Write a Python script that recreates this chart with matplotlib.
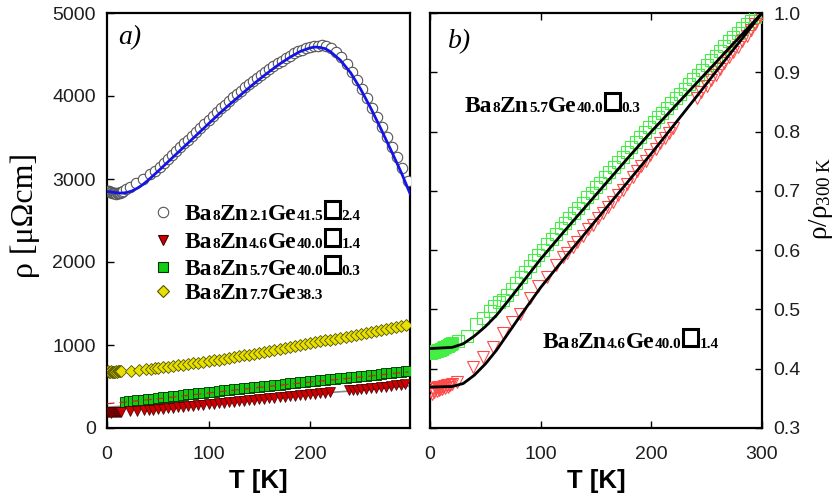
import matplotlib
matplotlib.use("Agg")
import matplotlib.pyplot as plt
from matplotlib.offsetbox import TextArea, HPacker, DrawingArea, AnnotationBbox
from matplotlib.patches import Rectangle
from matplotlib.lines import Line2D

plt.rcParams['mathtext.fontset'] = 'custom'
plt.rcParams['mathtext.rm'] = 'Liberation Serif'
plt.rcParams['mathtext.it'] = 'Liberation Serif:italic'

# ---------------- panel a data ----------------
circ_T = [1, 2, 3, 4, 5, 6, 7, 8, 9, 10, 11, 12, 13, 14, 15, 16, 19, 23, 29, 35, 42, 47,
          52, 56, 60, 64, 68, 72, 76, 80, 84, 88, 92, 96, 100, 104, 108, 112, 116, 120,
          124, 128, 132, 136, 140, 144, 148, 152, 156, 160, 164, 168, 172, 176, 180, 184,
          188, 192, 196, 200, 204, 208, 212, 216, 221, 226, 231, 236, 241, 246, 251, 256,
          261, 266, 271, 276, 281, 286, 291, 297]
circ_rho = [2860, 2852, 2846, 2840, 2835, 2831, 2828, 2826, 2825, 2826, 2828, 2831, 2836, 2842,
            2849, 2856, 2875, 2900, 2950, 3000, 3055, 3100,
            3145, 3192, 3240, 3287, 3334, 3381, 3428, 3475, 3522, 3569, 3616, 3663, 3710,
            3757, 3804, 3850, 3896, 3942, 3988, 4027, 4065, 4103, 4140, 4178, 4215, 4252,
            4288, 4323, 4358, 4392, 4425, 4457, 4487, 4514, 4538, 4560, 4578, 4592, 4602,
            4608, 4610, 4602, 4578, 4535, 4470, 4390, 4295, 4192, 4085, 3975, 3860, 3745,
            3625, 3505, 3385, 3262, 3135, 2975]

fitA_T = [0, 5, 10, 15, 20, 25, 30, 35, 40, 45, 50, 60, 70, 80, 90, 100, 110, 120, 130, 140,
          150, 160, 170, 180, 190, 200, 205, 210, 215, 220, 230, 240, 250, 260, 270, 280,
          290, 298, 299]
fitA_rho = [2850, 2842, 2833, 2830, 2838, 2858, 2890, 2930, 2980, 3035, 3090, 3205, 3320,
            3435, 3550, 3665, 3780, 3890, 3995, 4100, 4200, 4295, 4385, 4465, 4535, 4580,
            4590, 4585, 4570, 4535, 4430, 4280, 4080, 3850, 3600, 3340, 3075, 2840, 2815]

yel_T = [1, 2, 3, 4, 5, 6, 7, 8, 9, 10, 11, 12, 13, 14, 24, 32, 38, 43, 47,
         50, 55, 60, 65, 70, 75, 80, 85, 90, 95, 100, 105, 110, 115, 120, 125, 130, 135,
         140, 145, 150, 155, 160, 165, 170, 175, 180, 185, 190, 195, 200, 205, 210, 215,
         220, 225, 230, 235, 240, 245, 250, 255, 260, 265, 270, 275, 280, 285, 290, 295]
yel_rho = [682, 680, 679, 681, 680, 678, 679, 680, 681, 680, 682, 681, 683, 684, 684, 700,
           707, 716, 720,
           725, 732, 740, 747, 755, 763, 771, 779, 788, 796, 805, 814, 824, 834, 844, 854,
           864, 874, 884, 895, 905, 916, 927, 938, 950, 961, 973, 985, 996, 1008, 1020,
           1032, 1043, 1055, 1066, 1078, 1089, 1101, 1112, 1124, 1135, 1147, 1159, 1171,
           1183, 1195, 1207, 1219, 1231, 1245]

grn_T = [18, 22, 26, 30, 35, 40, 45, 50, 55, 60, 65, 70, 75, 80, 85, 90, 95, 100, 105, 110,
         115, 120, 125, 130, 135, 140, 145, 150, 155, 160, 165, 170, 175, 180, 185, 190,
         195, 200, 205, 210, 215, 220, 225, 230, 235, 240, 245, 250, 255, 260, 265, 270,
         275, 280, 285, 290, 295, 297]
grn_rho = [318, 322, 328, 333, 340, 347, 354, 362, 369, 376, 383, 390, 397, 404, 411, 418,
           425, 432, 439, 446, 453, 459, 466, 472, 479, 485, 492, 498, 505, 511, 518, 524,
           531, 537, 544, 550, 557, 563, 569, 575, 581, 587, 593, 599, 605, 611, 617, 623,
           630, 636, 643, 650, 657, 664, 671, 678, 685, 690]
grnfit_T = [0, 50, 100, 150, 200, 250, 297]
grnfit_rho = [292, 352, 422, 490, 553, 614, 676]

red_T = [1, 2, 3, 4, 5, 6, 7, 8, 9, 10, 11, 12, 13, 14, 23, 30, 36, 41, 45,
         50, 55, 60, 65, 70, 75, 80, 85, 90, 95, 100, 105, 110, 115, 120, 125, 130, 135,
         140, 145, 150, 155, 160, 165, 170, 175, 180, 185, 190, 195, 200, 205, 210, 215,
         220, 238, 242, 246, 250, 255, 260, 265, 270, 275, 280, 285, 290, 294]
red_rho = [192, 188, 195, 186, 190, 193, 187, 191, 189, 194, 190, 192, 195, 196, 200, 206,
           212, 218, 222,
           228, 234, 240, 246, 252, 258, 263, 269, 275, 281, 287, 293, 299, 305, 311, 317,
           323, 329, 335, 341, 347, 353, 359, 365, 371, 377, 383, 389, 395, 401, 407, 413,
           419, 425, 431, 455, 459, 463, 467, 473, 478, 484, 490, 496, 505, 513, 522, 532]
redfit_T = [0, 50, 100, 150, 200, 230, 250, 297]
redfit_rho = [250, 290, 330, 370, 410, 437, 455, 505]

# ---------------- panel b data ----------------
gb_T = [1, 2, 3, 4, 5, 6, 7, 8, 9, 10, 11, 12, 13, 14, 15, 16, 17, 18, 19, 20,
        25, 33, 42, 48, 54, 58, 62,
        66, 70, 74, 78, 82, 86, 90, 94, 98, 102, 106, 110, 114, 118, 122, 126, 130, 134,
        138, 142, 146, 150, 154, 158, 162, 166, 170, 174, 178, 182, 186, 190, 194, 198,
        202, 206, 210, 214, 218, 222, 226, 230, 234, 238, 242, 246, 250, 254, 258, 262,
        266, 270, 274, 278, 282, 286, 290, 294, 298]
gb_v = [0.427, 0.428, 0.428, 0.429, 0.430, 0.430, 0.431, 0.432, 0.432, 0.433, 0.434, 0.435,
        0.436, 0.437, 0.438, 0.439, 0.440, 0.441, 0.442, 0.443,
        0.447, 0.456, 0.476, 0.486, 0.497, 0.505, 0.512,
        0.516, 0.525, 0.535, 0.544, 0.554, 0.563, 0.573, 0.583, 0.592, 0.601, 0.610, 0.619,
        0.628, 0.637, 0.645, 0.654, 0.663, 0.671, 0.680, 0.689, 0.697, 0.706, 0.714, 0.723,
        0.731, 0.740, 0.749, 0.757, 0.766, 0.774, 0.783, 0.791, 0.800, 0.808, 0.816, 0.824,
        0.832, 0.840, 0.848, 0.856, 0.864, 0.872, 0.880, 0.888, 0.896, 0.904, 0.912, 0.920,
        0.928, 0.936, 0.944, 0.952, 0.959, 0.967, 0.974, 0.981, 0.987, 0.993, 0.998]
gfit_T = [0, 20, 30, 40, 50, 60, 70, 80, 90, 100, 120, 140, 160, 180, 200, 220, 240, 260,
          280, 300]
gfit_v = [0.434, 0.436, 0.442, 0.455, 0.471, 0.490, 0.513, 0.537, 0.561, 0.585, 0.629,
          0.672, 0.715, 0.758, 0.800, 0.840, 0.880, 0.920, 0.960, 1.000]

rb_T = [1, 2, 3, 4, 5, 6, 7, 8, 9, 10, 11, 12, 13, 14, 15, 16, 17, 18, 20, 24,
        39, 48, 57, 66, 74, 81, 90, 98, 106, 114, 120, 124, 129, 133, 138, 143, 147, 152,
        156, 161, 165, 170, 174, 178, 183, 187, 191, 195, 199, 204, 208, 212, 216, 220,
        241, 245, 250, 254, 258, 262, 266, 270, 274, 278, 282, 286, 290, 294, 298]
rb_v = [0.362, 0.358, 0.365, 0.360, 0.367, 0.362, 0.369, 0.364, 0.366, 0.370, 0.365, 0.369,
        0.371, 0.368, 0.372, 0.370, 0.373, 0.372, 0.375, 0.378,
        0.403, 0.420, 0.437, 0.460, 0.479, 0.493, 0.520, 0.540, 0.555, 0.575, 0.588, 0.595,
        0.606, 0.613, 0.624, 0.635, 0.643, 0.655, 0.663, 0.673, 0.682, 0.693, 0.702, 0.712,
        0.723, 0.733, 0.742, 0.751, 0.760, 0.771, 0.780, 0.789, 0.798, 0.806,
        0.856, 0.866, 0.877, 0.887, 0.896, 0.906, 0.915, 0.925, 0.934, 0.943, 0.953, 0.962,
        0.972, 0.981, 0.995]
rfit_T = [0, 20, 30, 40, 50, 60, 70, 80, 90, 100, 120, 140, 160, 180, 200, 220, 240, 260,
          280, 300]
rfit_v = [0.369, 0.370, 0.375, 0.389, 0.408, 0.431, 0.458, 0.485, 0.511, 0.537, 0.583,
          0.628, 0.673, 0.718, 0.763, 0.810, 0.857, 0.905, 0.952, 1.000]

a_yticks = [0, 1000, 2000, 3000, 4000, 5000]
a_xticks = [0, 100, 200]
b_xticks = [0, 100, 200, 300]
b_yticks = [0.3, 0.4, 0.5, 0.6, 0.7, 0.8, 0.9, 1.0]
b_yticklabels = ['0.3', '0.4', '0.5', '0.6', '0.7', '0.8', '0.9', '1.0']

legend_rows = [
    ('o', 'white', '#555555', 7.5, [('n', 'Ba'), ('s', '8'), ('n', 'Zn'), ('s', '2.1'), ('n', 'Ge'), ('s', '41.5'), ('box', ''), ('s', '2.4')]),
    ('v', '#cc0000', '#400000', 7.5, [('n', 'Ba'), ('s', '8'), ('n', 'Zn'), ('s', '4.6'), ('n', 'Ge'), ('s', '40.0'), ('box', ''), ('s', '1.4')]),
    ('s', '#11cc11', '#003300', 6.5, [('n', 'Ba'), ('s', '8'), ('n', 'Zn'), ('s', '5.7'), ('n', 'Ge'), ('s', '40.0'), ('box', ''), ('s', '0.3')]),
    ('D', '#e8e000', '#555500', 6.0, [('n', 'Ba'), ('s', '8'), ('n', 'Zn'), ('s', '7.7'), ('n', 'Ge'), ('s', '38.3')]),
]
b_label_top = [('n', 'Ba'), ('s', '8'), ('n', 'Zn'), ('s', '5.7'), ('n', 'Ge'), ('s', '40.0'), ('box', ''), ('s', '0.3')]
b_label_bot = [('n', 'Ba'), ('s', '8'), ('n', 'Zn'), ('s', '4.6'), ('n', 'Ge'), ('s', '40.0'), ('box', ''), ('s', '1.4')]

W, H = 835, 503
fig = plt.figure(figsize=(W / 100, H / 100), dpi=100)
axa = fig.add_axes([107 / W, 75 / H, 303 / W, 415 / H])
axb = fig.add_axes([430 / W, 75 / H, 332 / W, 415 / H])

tick_font = dict(family='Liberation Sans', size=14)

# ---- panel a ----
axa.plot(yel_T, yel_rho, ls='none', marker='D', ms=6.0, mfc='#e8e000', mec='#555500', mew=0.6, zorder=3)
axa.plot(grnfit_T, grnfit_rho, color='#cc2222', lw=0.9, ls=(0, (6, 4)), zorder=5)
axa.plot(grn_T, grn_rho, ls='none', marker='s', ms=6.5, mfc='#11cc11', mec='#003300', mew=0.6, zorder=3)
axa.plot(redfit_T, redfit_rho, color='#888888', lw=1.2, zorder=2)
axa.plot(red_T, red_rho, ls='none', marker='v', ms=7.5, mfc='#cc0000', mec='#400000', mew=0.5, zorder=4)
axa.plot(circ_T, circ_rho, ls='none', marker='o', ms=7.5, mfc='white', mec='#555555', mew=0.8, zorder=3)
axa.plot(fitA_T, fitA_rho, color='#1414e6', lw=2.0, zorder=6)

axa.set_xlim(0, 298.5)
axa.set_ylim(0, 5000)
axa.set_xticks(a_xticks)
axa.set_yticks(a_yticks)
axa.tick_params(direction='in', length=5, width=1, pad=8, labelcolor='#1e1e1e',
                top=False, right=False)
axa.tick_params(axis='x', pad=13)
for lab in axa.get_xticklabels() + axa.get_yticklabels():
    lab.set_fontproperties(tick_font)
for sp in axa.spines.values():
    sp.set_linewidth(1.6)

# ---- panel b ----
axb.plot(gb_T, gb_v, ls='none', marker='s', ms=8, mfc='none', mec='#44ee44', mew=0.8, zorder=3)
axb.plot(rb_T, rb_v, ls='none', marker='v', ms=9, mfc='none', mec='#ff4a4a', mew=0.8, zorder=3)
axb.plot(gfit_T, gfit_v, color='black', lw=2.0, zorder=5)
axb.plot(rfit_T, rfit_v, color='black', lw=2.0, zorder=5)
axb.set_xlim(0, 300)
axb.set_ylim(0.3, 1.0)
axb.set_xticks(b_xticks)
axb.set_yticks(b_yticks)
axb.set_yticklabels(b_yticklabels)
axb.yaxis.tick_right()
axb.tick_params(direction='in', length=5, width=1, pad=8, labelcolor='#1e1e1e',
                top=True, bottom=True, left=True, right=True,
                labelleft=False, labelright=True)
axb.tick_params(axis='x', pad=13)
for lab in axb.get_xticklabels() + axb.get_yticklabels():
    lab.set_fontproperties(tick_font)
for sp in axb.spines.values():
    sp.set_linewidth(1.6)

# ---- axis labels ----
fig.text(258.5 / W, 1 - 481 / H, 'T [K]', ha='center', va='center',
         family='Liberation Sans', weight='bold', size=18.5)
fig.text(596 / W, 1 - 481 / H, 'T [K]', ha='center', va='center',
         family='Liberation Sans', weight='bold', size=18.5)
fig.text(25 / W, 1 - 215 / H, 'ρ [μΩcm]', ha='center', va='center', rotation=90,
         family='Liberation Serif', size=23)
fig.text(821 / W, 1 - 198 / H, r'$\mathrm{ρ/ρ_{300\ K}}$', ha='center', va='center',
         rotation=90, size=19.5)
fig.text(130 / W, 1 - 38 / H, 'a)', ha='center', va='center', family='Liberation Serif',
         style='italic', size=20)
fig.text(460 / W, 1 - 42 / H, 'b)', ha='center', va='center', family='Liberation Serif',
         style='italic', size=20)

BIG, SMALL = 17, 11


def chem_box(parts):
    kids = []
    for kind, s in parts:
        if kind == 'box':
            da = DrawingArea(13, 15, 0, 0)
            da.add_artist(Rectangle((1.1, 1.1), 13 - 2.2, 15 - 2.2, fill=False, lw=2.2,
                                    ec='black'))
            kids.append(da)
        else:
            kids.append(TextArea(s, textprops=dict(fontsize=BIG if kind == 'n' else SMALL,
                                                   family='Liberation Serif',
                                                   weight='bold', color='black')))
    return HPacker(children=kids, align='baseline', pad=0, sep=0)


def place(box, x_px, y_px_top):
    ab = AnnotationBbox(box, (x_px, H - y_px_top), xycoords='figure pixels',
                        box_alignment=(0, 0.5), frameon=False, pad=0)
    fig.add_artist(ab)


row_y = [212, 240, 267, 293]
for (mk, fc, ec, ms, parts), yy in zip(legend_rows, row_y):
    da = DrawingArea(21.8, 12, 0, 0)
    da.add_artist(Line2D([6], [5.5], marker=mk, ms=ms, mfc=fc, mec=ec, mew=0.8, ls='none'))
    row = HPacker(children=[da, chem_box(parts)], align='baseline', pad=0, sep=0)
    place(row, 154.7, yy)

place(chem_box(b_label_top), 465, 104)
place(chem_box(b_label_bot), 543, 340)

fig.savefig('out.png', dpi=100)
